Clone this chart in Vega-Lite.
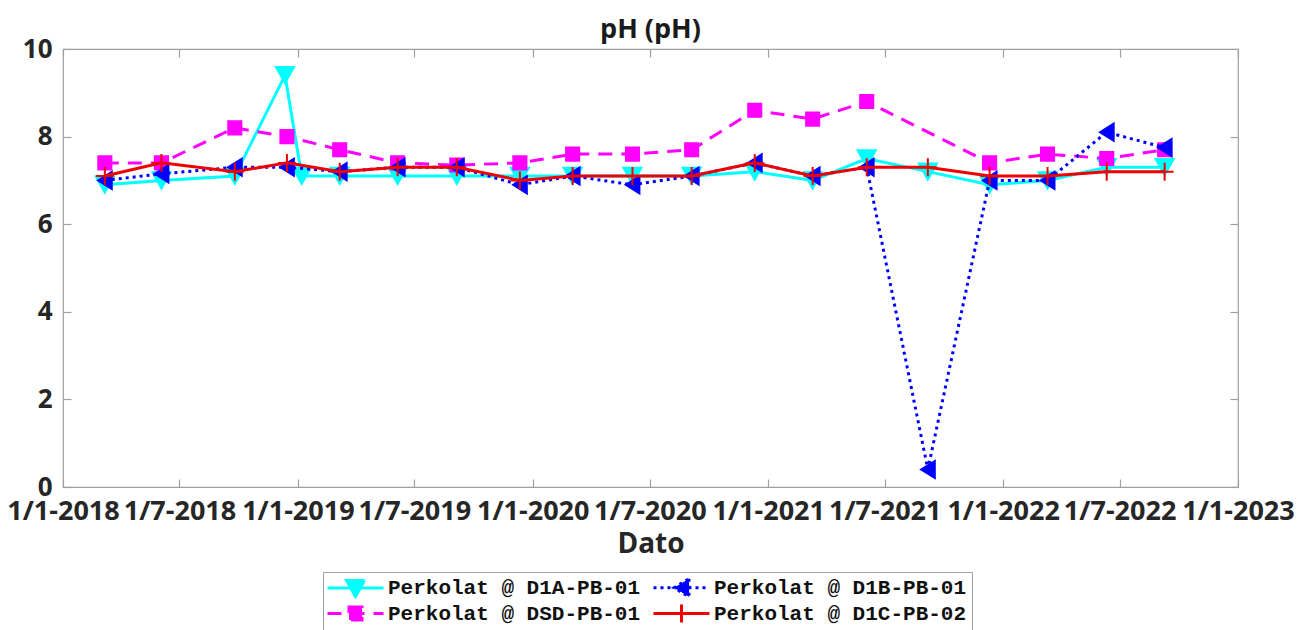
{
  "$schema": "https://vega.github.io/schema/vega-lite/v6.json",
  "autosize": {"type": "none"},
  "width": 1175,
  "height": 438,
  "padding": {"left": 63, "top": 49, "right": 60, "bottom": 143},
  "title": {"text": "pH (pH)", "font": "Open Sans", "fontSize": 27, "fontWeight": "bold", "color": "#1a1a1a", "anchor": "middle", "offset": -8},
  "config": {"view": {"stroke": "#a0a0a0", "strokeWidth": 1.2}, "font": "Open Sans"},
  "data": {"values": [
    {"Dato": "2018-03-07", "Serie": "Perkolat @ D1A-PB-01", "pH": 6.9},
    {"Dato": "2018-06-03", "Serie": "Perkolat @ D1A-PB-01", "pH": 7.0},
    {"Dato": "2018-09-25", "Serie": "Perkolat @ D1A-PB-01", "pH": 7.1},
    {"Dato": "2018-12-12", "Serie": "Perkolat @ D1A-PB-01", "pH": 9.4},
    {"Dato": "2019-01-07", "Serie": "Perkolat @ D1A-PB-01", "pH": 7.1},
    {"Dato": "2019-03-07", "Serie": "Perkolat @ D1A-PB-01", "pH": 7.1},
    {"Dato": "2019-06-05", "Serie": "Perkolat @ D1A-PB-01", "pH": 7.1},
    {"Dato": "2019-09-05", "Serie": "Perkolat @ D1A-PB-01", "pH": 7.1},
    {"Dato": "2019-12-12", "Serie": "Perkolat @ D1A-PB-01", "pH": 7.1},
    {"Dato": "2020-03-03", "Serie": "Perkolat @ D1A-PB-01", "pH": 7.1},
    {"Dato": "2020-06-04", "Serie": "Perkolat @ D1A-PB-01", "pH": 7.1},
    {"Dato": "2020-09-04", "Serie": "Perkolat @ D1A-PB-01", "pH": 7.1},
    {"Dato": "2020-12-11", "Serie": "Perkolat @ D1A-PB-01", "pH": 7.2},
    {"Dato": "2021-03-11", "Serie": "Perkolat @ D1A-PB-01", "pH": 7.0},
    {"Dato": "2021-06-03", "Serie": "Perkolat @ D1A-PB-01", "pH": 7.5},
    {"Dato": "2021-09-06", "Serie": "Perkolat @ D1A-PB-01", "pH": 7.2},
    {"Dato": "2021-12-11", "Serie": "Perkolat @ D1A-PB-01", "pH": 6.9},
    {"Dato": "2022-03-11", "Serie": "Perkolat @ D1A-PB-01", "pH": 7.0},
    {"Dato": "2022-06-11", "Serie": "Perkolat @ D1A-PB-01", "pH": 7.3},
    {"Dato": "2022-09-09", "Serie": "Perkolat @ D1A-PB-01", "pH": 7.3},

    {"Dato": "2018-03-07", "Serie": "Perkolat @ DSD-PB-01", "pH": 7.4},
    {"Dato": "2018-06-03", "Serie": "Perkolat @ DSD-PB-01", "pH": 7.4},
    {"Dato": "2018-09-25", "Serie": "Perkolat @ DSD-PB-01", "pH": 8.2},
    {"Dato": "2018-12-15", "Serie": "Perkolat @ DSD-PB-01", "pH": 8.0},
    {"Dato": "2019-03-07", "Serie": "Perkolat @ DSD-PB-01", "pH": 7.7},
    {"Dato": "2019-06-05", "Serie": "Perkolat @ DSD-PB-01", "pH": 7.4},
    {"Dato": "2019-09-05", "Serie": "Perkolat @ DSD-PB-01", "pH": 7.35},
    {"Dato": "2019-12-12", "Serie": "Perkolat @ DSD-PB-01", "pH": 7.4},
    {"Dato": "2020-03-03", "Serie": "Perkolat @ DSD-PB-01", "pH": 7.6},
    {"Dato": "2020-06-04", "Serie": "Perkolat @ DSD-PB-01", "pH": 7.6},
    {"Dato": "2020-09-04", "Serie": "Perkolat @ DSD-PB-01", "pH": 7.7},
    {"Dato": "2020-12-11", "Serie": "Perkolat @ DSD-PB-01", "pH": 8.6},
    {"Dato": "2021-03-11", "Serie": "Perkolat @ DSD-PB-01", "pH": 8.4},
    {"Dato": "2021-06-03", "Serie": "Perkolat @ DSD-PB-01", "pH": 8.8},
    {"Dato": "2021-12-11", "Serie": "Perkolat @ DSD-PB-01", "pH": 7.4},
    {"Dato": "2022-03-11", "Serie": "Perkolat @ DSD-PB-01", "pH": 7.6},
    {"Dato": "2022-06-11", "Serie": "Perkolat @ DSD-PB-01", "pH": 7.5},
    {"Dato": "2022-09-09", "Serie": "Perkolat @ DSD-PB-01", "pH": 7.7},

    {"Dato": "2018-03-07", "Serie": "Perkolat @ D1B-PB-01", "pH": 7.0},
    {"Dato": "2018-06-03", "Serie": "Perkolat @ D1B-PB-01", "pH": 7.15},
    {"Dato": "2018-09-25", "Serie": "Perkolat @ D1B-PB-01", "pH": 7.3},
    {"Dato": "2018-12-15", "Serie": "Perkolat @ D1B-PB-01", "pH": 7.3},
    {"Dato": "2019-03-07", "Serie": "Perkolat @ D1B-PB-01", "pH": 7.2},
    {"Dato": "2019-06-05", "Serie": "Perkolat @ D1B-PB-01", "pH": 7.3},
    {"Dato": "2019-09-05", "Serie": "Perkolat @ D1B-PB-01", "pH": 7.3},
    {"Dato": "2019-12-12", "Serie": "Perkolat @ D1B-PB-01", "pH": 6.9},
    {"Dato": "2020-03-03", "Serie": "Perkolat @ D1B-PB-01", "pH": 7.1},
    {"Dato": "2020-06-04", "Serie": "Perkolat @ D1B-PB-01", "pH": 6.9},
    {"Dato": "2020-09-04", "Serie": "Perkolat @ D1B-PB-01", "pH": 7.1},
    {"Dato": "2020-12-11", "Serie": "Perkolat @ D1B-PB-01", "pH": 7.4},
    {"Dato": "2021-03-11", "Serie": "Perkolat @ D1B-PB-01", "pH": 7.1},
    {"Dato": "2021-06-03", "Serie": "Perkolat @ D1B-PB-01", "pH": 7.3},
    {"Dato": "2021-09-06", "Serie": "Perkolat @ D1B-PB-01", "pH": 0.4},
    {"Dato": "2021-12-11", "Serie": "Perkolat @ D1B-PB-01", "pH": 7.0},
    {"Dato": "2022-03-11", "Serie": "Perkolat @ D1B-PB-01", "pH": 7.0},
    {"Dato": "2022-06-11", "Serie": "Perkolat @ D1B-PB-01", "pH": 8.1},
    {"Dato": "2022-09-09", "Serie": "Perkolat @ D1B-PB-01", "pH": 7.75},

    {"Dato": "2018-03-07", "Serie": "Perkolat @ D1C-PB-02", "pH": 7.1},
    {"Dato": "2018-06-03", "Serie": "Perkolat @ D1C-PB-02", "pH": 7.4},
    {"Dato": "2018-09-25", "Serie": "Perkolat @ D1C-PB-02", "pH": 7.2},
    {"Dato": "2018-12-15", "Serie": "Perkolat @ D1C-PB-02", "pH": 7.4},
    {"Dato": "2019-03-07", "Serie": "Perkolat @ D1C-PB-02", "pH": 7.2},
    {"Dato": "2019-06-05", "Serie": "Perkolat @ D1C-PB-02", "pH": 7.3},
    {"Dato": "2019-09-05", "Serie": "Perkolat @ D1C-PB-02", "pH": 7.3},
    {"Dato": "2019-12-12", "Serie": "Perkolat @ D1C-PB-02", "pH": 7.0},
    {"Dato": "2020-03-03", "Serie": "Perkolat @ D1C-PB-02", "pH": 7.1},
    {"Dato": "2020-06-04", "Serie": "Perkolat @ D1C-PB-02", "pH": 7.1},
    {"Dato": "2020-09-04", "Serie": "Perkolat @ D1C-PB-02", "pH": 7.1},
    {"Dato": "2020-12-11", "Serie": "Perkolat @ D1C-PB-02", "pH": 7.4},
    {"Dato": "2021-03-11", "Serie": "Perkolat @ D1C-PB-02", "pH": 7.1},
    {"Dato": "2021-06-03", "Serie": "Perkolat @ D1C-PB-02", "pH": 7.3},
    {"Dato": "2021-09-06", "Serie": "Perkolat @ D1C-PB-02", "pH": 7.3},
    {"Dato": "2021-12-11", "Serie": "Perkolat @ D1C-PB-02", "pH": 7.1},
    {"Dato": "2022-03-11", "Serie": "Perkolat @ D1C-PB-02", "pH": 7.1},
    {"Dato": "2022-06-11", "Serie": "Perkolat @ D1C-PB-02", "pH": 7.2},
    {"Dato": "2022-09-09", "Serie": "Perkolat @ D1C-PB-02", "pH": 7.2}
  ]},
  "resolve": {"axis": {"x": "independent", "y": "independent"}},
  "layer": [
    {
      "transform": [{"filter": "datum.Serie === 'Perkolat @ D1A-PB-01'"}],
      "mark": {"type": "line", "strokeWidth": 3, "color": "#00ffff"},
      "encoding": {
        "x": {"field": "Dato", "type": "temporal",
          "scale": {"domain": [{"year": 2018, "month": 1, "date": 1}, {"year": 2023, "month": 1, "date": 1}]},
          "axis": {"title": "Dato", "format": "%-d/%-m-%Y",
            "values": [{"year": 2018, "month": 1, "date": 1}, {"year": 2018, "month": 7, "date": 1}, {"year": 2019, "month": 1, "date": 1}, {"year": 2019, "month": 7, "date": 1}, {"year": 2020, "month": 1, "date": 1}, {"year": 2020, "month": 7, "date": 1}, {"year": 2021, "month": 1, "date": 1}, {"year": 2021, "month": 7, "date": 1}, {"year": 2022, "month": 1, "date": 1}, {"year": 2022, "month": 7, "date": 1}, {"year": 2023, "month": 1, "date": 1}],
            "labelFont": "Open Sans", "labelFontSize": 27, "labelFontWeight": "bold", "labelColor": "#262626",
            "titleFont": "Open Sans", "titleFontSize": 28, "titleFontWeight": "bold", "titleColor": "#262626",
            "tickSize": -8, "tickColor": "#a0a0a0", "tickWidth": 1.2, "domain": false, "grid": false,
            "labelPadding": 19, "titlePadding": 6, "labelOverlap": false, "labelFlush": false}},
        "y": {"field": "pH", "type": "quantitative",
          "scale": {"domain": [0, 10], "nice": false},
          "axis": {"title": null, "values": [0, 2, 4, 6, 8, 10],
            "labelFont": "Open Sans", "labelFontSize": 26, "labelFontWeight": "bold", "labelColor": "#262626",
            "tickSize": -8, "tickColor": "#a0a0a0", "tickWidth": 1.2, "domain": false, "grid": false,
            "labelPadding": 19}}
      }
    },
    {
      "transform": [{"filter": "datum.Serie === 'Perkolat @ D1A-PB-01'"}],
      "mark": {"type": "point", "filled": true, "size": 400, "strokeWidth": 1.5, "opacity": 1, "color": "#00ffff", "stroke": "#00ffff", "shape": "M-0.95,-0.85L0.95,-0.85L0,0.85Z"},
      "encoding": {
        "x": {"field": "Dato", "type": "temporal",
          "axis": {"orient": "top", "title": null, "labels": false, "values": [{"year": 2018, "month": 1, "date": 1}, {"year": 2018, "month": 7, "date": 1}, {"year": 2019, "month": 1, "date": 1}, {"year": 2019, "month": 7, "date": 1}, {"year": 2020, "month": 1, "date": 1}, {"year": 2020, "month": 7, "date": 1}, {"year": 2021, "month": 1, "date": 1}, {"year": 2021, "month": 7, "date": 1}, {"year": 2022, "month": 1, "date": 1}, {"year": 2022, "month": 7, "date": 1}, {"year": 2023, "month": 1, "date": 1}],
            "tickSize": -8, "tickColor": "#a0a0a0", "tickWidth": 1.2, "domain": false, "grid": false}},
        "y": {"field": "pH", "type": "quantitative",
          "axis": {"orient": "right", "title": null, "labels": false, "values": [0, 2, 4, 6, 8, 10],
            "tickSize": -8, "tickColor": "#a0a0a0", "tickWidth": 1.2, "domain": false, "grid": false}}
      }
    },
    {
      "transform": [{"filter": "datum.Serie === 'Perkolat @ DSD-PB-01'"}],
      "mark": {"type": "line", "strokeWidth": 3, "color": "#ff00ff", "strokeDash": [14, 9]},
      "encoding": {
        "x": {"field": "Dato", "type": "temporal", "axis": null},
        "y": {"field": "pH", "type": "quantitative", "axis": null}
      }
    },
    {
      "transform": [{"filter": "datum.Serie === 'Perkolat @ DSD-PB-01'"}],
      "mark": {"type": "point", "filled": true, "size": 400, "strokeWidth": 1.5, "opacity": 1, "color": "#ff00ff", "stroke": "#ff00ff", "shape": "M-0.68,-0.68H0.68V0.68H-0.68Z"},
      "encoding": {
        "x": {"field": "Dato", "type": "temporal", "axis": null},
        "y": {"field": "pH", "type": "quantitative", "axis": null}
      }
    },
    {
      "transform": [{"filter": "datum.Serie === 'Perkolat @ D1B-PB-01'"}],
      "mark": {"type": "line", "strokeWidth": 3, "color": "#0000ff", "strokeDash": [3, 4]},
      "encoding": {
        "x": {"field": "Dato", "type": "temporal", "axis": null},
        "y": {"field": "pH", "type": "quantitative", "axis": null}
      }
    },
    {
      "transform": [{"filter": "datum.Serie === 'Perkolat @ D1B-PB-01'"}],
      "mark": {"type": "point", "filled": true, "size": 400, "strokeWidth": 1.5, "opacity": 1, "color": "#0000ff", "stroke": "#0000ff", "shape": "M0.72,-0.9L0.72,0.9L-0.72,0Z"},
      "encoding": {
        "x": {"field": "Dato", "type": "temporal", "axis": null},
        "y": {"field": "pH", "type": "quantitative", "axis": null}
      }
    },
    {
      "transform": [{"filter": "datum.Serie === 'Perkolat @ D1C-PB-02'"}],
      "mark": {"type": "line", "strokeWidth": 3, "color": "#f00000"},
      "encoding": {
        "x": {"field": "Dato", "type": "temporal", "axis": null},
        "y": {"field": "pH", "type": "quantitative", "axis": null}
      }
    },
    {
      "transform": [{"filter": "datum.Serie === 'Perkolat @ D1C-PB-02'"}],
      "mark": {"type": "point", "filled": true, "size": 400, "strokeWidth": 2, "opacity": 1, "color": "#f00000", "stroke": "#f00000", "shape": "M-0.9,0H0.9M0,-0.9V0.9"},
      "encoding": {
        "x": {"field": "Dato", "type": "temporal", "axis": null},
        "y": {"field": "pH", "type": "quantitative", "axis": null}
      }
    },
    {
      "mark": {"type": "point", "filled": true, "opacity": 0},
      "encoding": {
        "x": {"field": "Dato", "type": "temporal", "axis": null},
        "y": {"field": "pH", "type": "quantitative", "axis": null},
        "color": {"field": "Serie", "type": "nominal",
          "scale": {"domain": ["Perkolat @ D1A-PB-01", "Perkolat @ DSD-PB-01", "Perkolat @ D1B-PB-01", "Perkolat @ D1C-PB-02"],
                    "range": ["#00ffff", "#ff00ff", "#0000ff", "#f00000"]},
          "legend": {"orient": "none", "legendX": 260, "legendY": 523, "columns": 2, "title": null,
            "labelFont": "Liberation Mono", "labelFontSize": 21, "labelFontWeight": "bold", "labelColor": "#111111", "labelLimit": 500,
            "symbolSize": 100, "symbolOffset": 17, "labelOffset": 22, "symbolStrokeWidth": 3, "symbolOpacity": 1,
            "strokeColor": "#a0a0a0", "fillColor": "#ffffff", "padding": 5, "rowPadding": -5, "columnPadding": 6}},
        "stroke": {"field": "Serie", "type": "nominal",
          "scale": {"domain": ["Perkolat @ D1A-PB-01", "Perkolat @ DSD-PB-01", "Perkolat @ D1B-PB-01", "Perkolat @ D1C-PB-02"],
                    "range": ["#00ffff", "#ff00ff", "#0000ff", "#f00000"]},
          "legend": {"orient": "none", "legendX": 260, "legendY": 523, "columns": 2, "title": null,
            "labelFont": "Liberation Mono", "labelFontSize": 21, "labelFontWeight": "bold", "labelColor": "#111111", "labelLimit": 500,
            "symbolSize": 100, "symbolOffset": 17, "labelOffset": 22, "symbolStrokeWidth": 3, "symbolOpacity": 1,
            "strokeColor": "#a0a0a0", "fillColor": "#ffffff", "padding": 5, "rowPadding": -5, "columnPadding": 6}},
        "strokeDash": {"field": "Serie", "type": "nominal",
          "scale": {"domain": ["Perkolat @ D1A-PB-01", "Perkolat @ DSD-PB-01", "Perkolat @ D1B-PB-01", "Perkolat @ D1C-PB-02"],
                    "range": [[1, 0], [14, 9], [3, 4], [1, 0]]},
          "legend": {"orient": "none", "legendX": 260, "legendY": 523, "columns": 2, "title": null,
            "labelFont": "Liberation Mono", "labelFontSize": 21, "labelFontWeight": "bold", "labelColor": "#111111", "labelLimit": 500,
            "symbolSize": 100, "symbolOffset": 17, "labelOffset": 22, "symbolStrokeWidth": 3, "symbolOpacity": 1,
            "strokeColor": "#a0a0a0", "fillColor": "#ffffff", "padding": 5, "rowPadding": -5, "columnPadding": 6}},
        "shape": {"field": "Serie", "type": "nominal",
          "scale": {"domain": ["Perkolat @ D1A-PB-01", "Perkolat @ DSD-PB-01", "Perkolat @ D1B-PB-01", "Perkolat @ D1C-PB-02"],
                    "range": ["M-5.6,0H5.6M-1.8,-1.5L1.8,-1.5L0,1.7Z", "M-5.6,0H5.6M-1.3,-1.3H1.3V1.3H-1.3Z", "M-5.6,0H5.6M1.5,-1.8L1.5,1.8L-1.5,0Z", "M-5.6,0H5.6M0,-1.8V1.8"]},
          "legend": {"orient": "none", "legendX": 260, "legendY": 523, "columns": 2, "title": null,
            "labelFont": "Liberation Mono", "labelFontSize": 21, "labelFontWeight": "bold", "labelColor": "#111111", "labelLimit": 500,
            "symbolSize": 100, "symbolOffset": 17, "labelOffset": 22, "symbolStrokeWidth": 3, "symbolOpacity": 1,
            "strokeColor": "#a0a0a0", "fillColor": "#ffffff", "padding": 5, "rowPadding": -5, "columnPadding": 6}}
      }
    }
  ]
}
